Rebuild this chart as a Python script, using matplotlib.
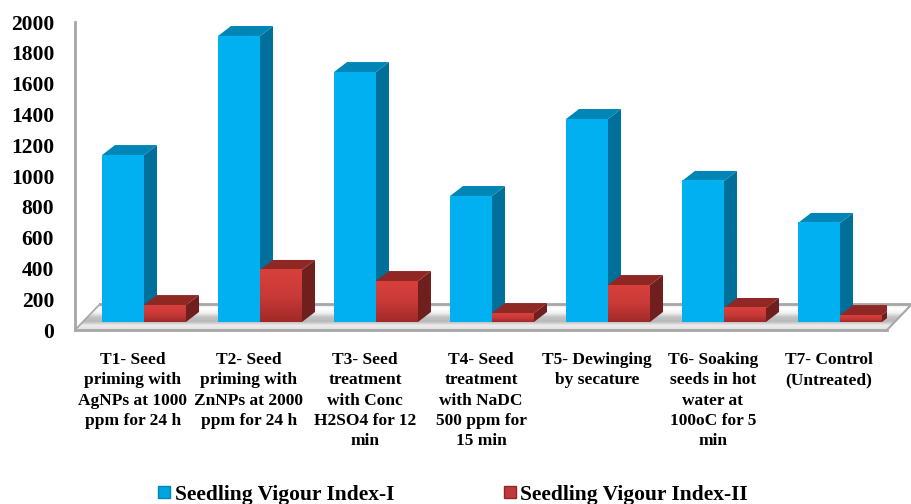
import matplotlib
matplotlib.use('Agg')
import matplotlib.pyplot as plt
import numpy as np
from matplotlib.colors import LinearSegmentedColormap
from matplotlib.patches import Patch, Polygon

categories = [
    'T1- Seed\npriming with\nAgNPs at 1000\nppm for 24 h',
    'T2- Seed\npriming with\nZnNPs at 2000\nppm for 24 h',
    'T3- Seed\ntreatment\nwith Conc\nH2SO4 for 12\nmin',
    'T4- Seed\ntreatment\nwith NaDC\n500 ppm for\n15 min',
    'T5- Dewinging\nby secature',
    'T6- Soaking\nseeds in hot\nwater at\n100oC for 5\nmin',
    'T7- Control\n(Untreated)',
]
svi_1 = [1084, 1857, 1623, 818, 1318, 916, 643]
svi_2 = [110, 338, 266, 58, 240, 91, 45]
y_ticks = [0, 200, 400, 600, 800, 1000, 1200, 1400, 1600, 1800, 2000]

plt.rcParams['font.family'] = ['Liberation Serif', 'DejaVu Serif']
plt.rcParams['font.weight'] = 'bold'

W, H = 912, 504
fig = plt.figure(figsize=(W / 100, H / 100), dpi=100)
ax = fig.add_axes([75 / W, (H - 330) / H, 812 / W, 308 / H])
ax.set_xlim(0, 7)
ax.set_ylim(0, 2000)

# one screen pixel in data units
px = 7 / 812
py = 2000 / 308
depth_x = 13 * px
depth_y = 10 * py
base = 8 * py
shift = 11 * px
bar_w = 42 * px


def vgrad(colors, extent, clip=None, zorder=1):
    cmap = LinearSegmentedColormap.from_list('g', colors)
    im = ax.imshow(np.linspace(0, 1, 64).reshape(-1, 1), cmap=cmap, extent=extent,
                   aspect='auto', origin='upper', zorder=zorder)
    im.set_clip_box(fig.bbox)
    if clip is not None:
        im.set_clip_path(clip)
    return im


# floor
floor_pts = [(0, 0), (7, 0), (7 + 25 * px, 26 * py), (25 * px, 26 * py)]
floor = Polygon(floor_pts, closed=True, fc='none', ec='none', clip_on=False)
ax.add_patch(floor)
vgrad(['#e6e6e6', '#ffffff', '#f2f2f2', '#c4c4c4', '#b8b8b8', '#eeeeee', '#dddddd'],
      (0, 7 + 25 * px, 0, 26 * py), clip=floor, zorder=1)

# wall and floor lines
line_kw = dict(color='#a6a6a6', lw=2, clip_on=False, zorder=2)
ax.plot([0, 0], [0, 2000], **line_kw)
ax.plot([0, 7], [0, 0], **line_kw)
ax.plot([0, 25 * px], [0, 26 * py], color='#a6a6a6', lw=1.2, clip_on=False, zorder=2)
ax.plot([7, 7 + 25 * px], [0, 26 * py], color='#a6a6a6', lw=1.5, clip_on=False, zorder=2)
ax.plot([25 * px, 7 + 25 * px], [26 * py, 26 * py], **line_kw)


def draw_bar(x0, value, front, side, top, z):
    x1 = x0 + bar_w
    y0 = base
    y1 = base + value
    ax.add_patch(Polygon([(x1, y0), (x1 + depth_x, y0 + depth_y), (x1 + depth_x, y1 + depth_y), (x1, y1)],
                         fc=side, ec='none', zorder=z))
    ax.add_patch(Polygon([(x0, y1), (x1, y1), (x1 + depth_x, y1 + depth_y), (x0 + depth_x, y1 + depth_y)],
                         fc=top, ec='none', zorder=z))
    vgrad(front, (x0, x1, y0, y1), zorder=z + 0.1)


for i in range(len(categories)):
    left = i + 0.5 + shift - bar_w
    draw_bar(left + bar_w, svi_2[i], ['#d8403c', '#c93a38', '#a02a28'], '#6f1f1d', '#8f2725', 4)
    draw_bar(left, svi_1[i], ['#00b0f0', '#00b0f0'], '#006f9a', '#0086b6', 3)

ax.set_xlim(0, 7)
ax.set_ylim(0, 2000)

ax.set_yticks(y_ticks)
ax.tick_params(axis='y', length=0, pad=15, labelsize=15.5)
ax.set_xticks(np.arange(len(categories)) + 0.5)
ax.set_xticklabels(categories, fontsize=12.5, linespacing=1.35, va='top')
ax.tick_params(axis='x', length=0, pad=16)
for s in ax.spines.values():
    s.set_visible(False)
ax.patch.set_alpha(0)

handles = [Patch(fc='#00a4df', ec='#0086b6', label='Seedling Vigour Index-I'),
           Patch(fc='#c0393a', ec='#8f2725', label='Seedling Vigour Index-II')]
fig.legend(handles=handles, loc='lower left', bbox_to_anchor=(139 / W, -20 / H), ncols=2, frameon=False,
           fontsize=15.5, handlelength=0.55, handleheight=0.55, handletextpad=0.2, columnspacing=5.1)

fig.savefig('out.png', dpi=100)
